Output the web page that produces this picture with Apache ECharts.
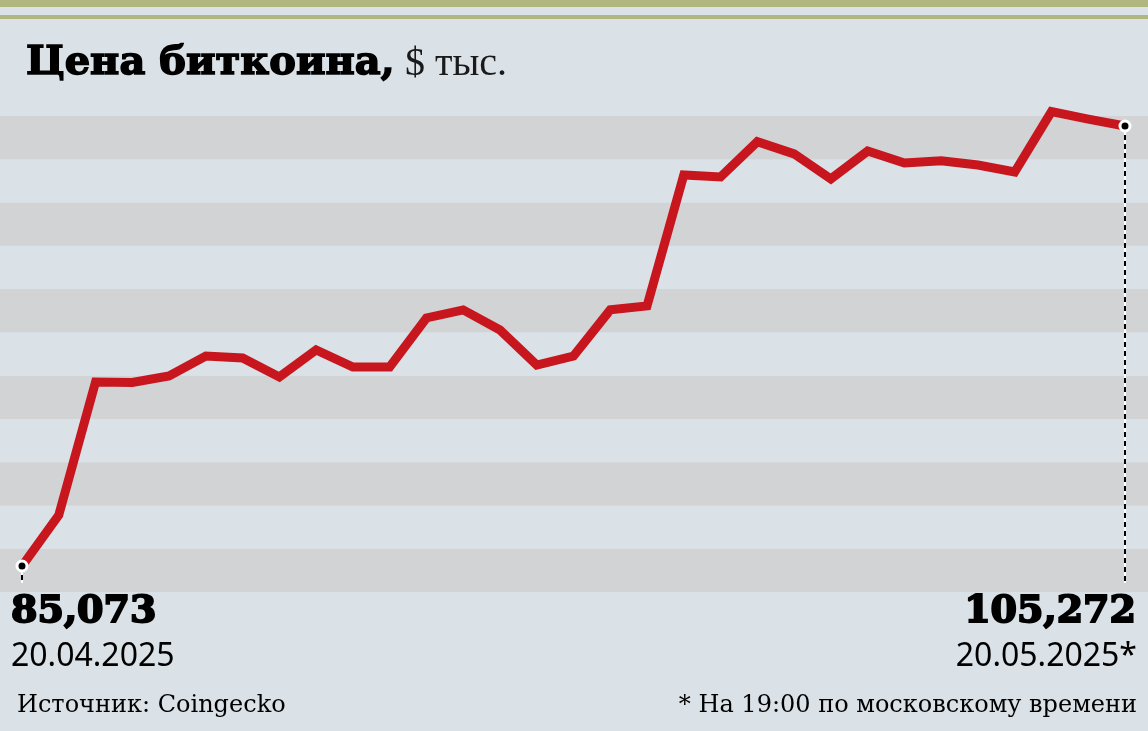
<!DOCTYPE html>
<html><head><meta charset="utf-8">
<script src="https://cdn.jsdelivr.net/npm/echarts@6/dist/echarts.min.js"></script>
<style>html,body{margin:0;padding:0;background:#dae1e7}#c{width:1148px;height:731px}</style>
</head><body><div id="c"></div><script>
// Data
const dates = ['20.04.2025','21.04.2025','22.04.2025','23.04.2025','24.04.2025','25.04.2025','26.04.2025','27.04.2025','28.04.2025','29.04.2025','30.04.2025',
  '01.05.2025','02.05.2025','03.05.2025','04.05.2025','05.05.2025','06.05.2025','07.05.2025','08.05.2025','09.05.2025','10.05.2025',
  '11.05.2025','12.05.2025','13.05.2025','14.05.2025','15.05.2025','16.05.2025','17.05.2025','18.05.2025','19.05.2025','20.05.2025'];
const prices = [85073, 87410, 93520, 93500, 93800, 94710, 94620, 93750, 94990, 94210, 94210,
  96460, 96830, 95910, 94300, 94710, 96830, 97010, 103020, 102930, 104550,
  103990, 102840, 104120, 103570, 103670, 103480, 103160, 105930, 105590, 105272];
const titleMain = 'Цена биткоина,';
const titleUnit = '$ тыс.';
const sourceText = 'Источник: Coingecko';
const noteText = '* На 19:00 по московскому времени';
const stripeTicks = [0, 11];
const yRange = [83880, 105730];
const dashBottom = 84290;

const fmt = v => v.toLocaleString('en-US');
const first = prices[0], last = prices[prices.length - 1];
const lastIdx = prices.length - 1;
const whiteLine = {color: '#fff', type: 'solid', width: 2};
const blackDash = {color: '#000', type: [5, 4], width: 2};

const chart = echarts.init(document.getElementById('c'), null, {renderer: 'canvas'});
chart.setOption({
  backgroundColor: '#dae1e7',
  animation: false,
  grid: [
    {left: 0, right: 0, top: 116, bottom: 139},
    {left: 22, right: 23, top: 116, bottom: 139}
  ],
  xAxis: [
    {gridIndex: 0, type: 'value', min: 0, max: 1, show: false},
    {gridIndex: 1, type: 'category', data: dates, boundaryGap: false, show: false}
  ],
  yAxis: [
    {gridIndex: 0, type: 'value', min: stripeTicks[0], max: stripeTicks[1], interval: 1,
      axisLine: {show: false}, axisTick: {show: false}, axisLabel: {show: false},
      splitLine: {show: false},
      splitArea: {show: true, areaStyle: {color: ['#d2d3d5', '#dae1e7']}}},
    {gridIndex: 1, type: 'value', min: yRange[0], max: yRange[1], show: false,
      splitLine: {show: false}}
  ],
  series: [{
    type: 'line',
    xAxisIndex: 1, yAxisIndex: 1,
    data: prices.map((v, i) => ({
      value: v,
      symbol: (i === 0 || i === lastIdx) ? 'circle' : 'none'
    })),
    showSymbol: true,
    symbolSize: 10,
    itemStyle: {color: '#000', borderColor: '#fff', borderWidth: 3},
    lineStyle: {color: '#c8161e', width: 9, join: 'miter', cap: 'butt'},
    clip: false,
    z: 5,
    markLine: {
      silent: true,
      symbol: 'none',
      label: {show: false},
      z: 2,
      data: [
        [{coord: [0, first], lineStyle: whiteLine}, {coord: [0, dashBottom]}],
        [{coord: [lastIdx, last], lineStyle: whiteLine}, {coord: [lastIdx, dashBottom]}],
        [{coord: [0, first], lineStyle: blackDash}, {coord: [0, dashBottom]}],
        [{coord: [lastIdx, last], lineStyle: blackDash}, {coord: [lastIdx, dashBottom]}]
      ]
    }
  }],
  graphic: [
    {type: 'rect', shape: {x: 0, y: 0, width: 1148, height: 7}, style: {fill: '#b0b67f'}},
    {type: 'rect', shape: {x: 0, y: 15, width: 1148, height: 4}, style: {fill: '#b0b67f'}},
    {type: 'text', x: 26, y: 64, style: {
      text: titleMain, verticalAlign: 'middle',
      fontFamily: 'DejaVu Serif', fontWeight: 'bold', fontSize: 40, fill: '#000',
      stroke: '#000', lineWidth: 1.5
    }},
    {type: 'text', x: 405, y: 64, style: {
      text: titleUnit, verticalAlign: 'middle',
      fontFamily: 'Liberation Serif', fontSize: 40, fill: '#1a1a1a'
    }},
    {type: 'text', x: 11, y: 612, style: {text: fmt(first), fontFamily: 'DejaVu Serif', fontWeight: 'bold', fontSize: 38, fill: '#000', stroke: '#000', lineWidth: 2, verticalAlign: 'middle'}},
    {type: 'text', x: 11, y: 657, style: {text: dates[0], fontFamily: 'Noto Sans', fontSize: 32, fill: '#000', verticalAlign: 'middle'}},
    {type: 'text', x: 1136, y: 612, style: {text: fmt(last), fontFamily: 'DejaVu Serif', fontWeight: 'bold', fontSize: 38, fill: '#000', stroke: '#000', lineWidth: 2, verticalAlign: 'middle', align: 'right'}},
    {type: 'text', x: 1137, y: 657, style: {text: dates[lastIdx] + '*', fontFamily: 'Noto Sans', fontSize: 32, fill: '#000', verticalAlign: 'middle', align: 'right'}},
    {type: 'text', x: 17, y: 706, style: {text: sourceText, fontFamily: 'DejaVu Serif', fontSize: 24, fill: '#000', verticalAlign: 'middle'}},
    {type: 'text', x: 1137, y: 706, style: {text: noteText, fontFamily: 'DejaVu Serif', fontSize: 24, fill: '#000', verticalAlign: 'middle', align: 'right'}}
  ]
});
</script></body></html>
